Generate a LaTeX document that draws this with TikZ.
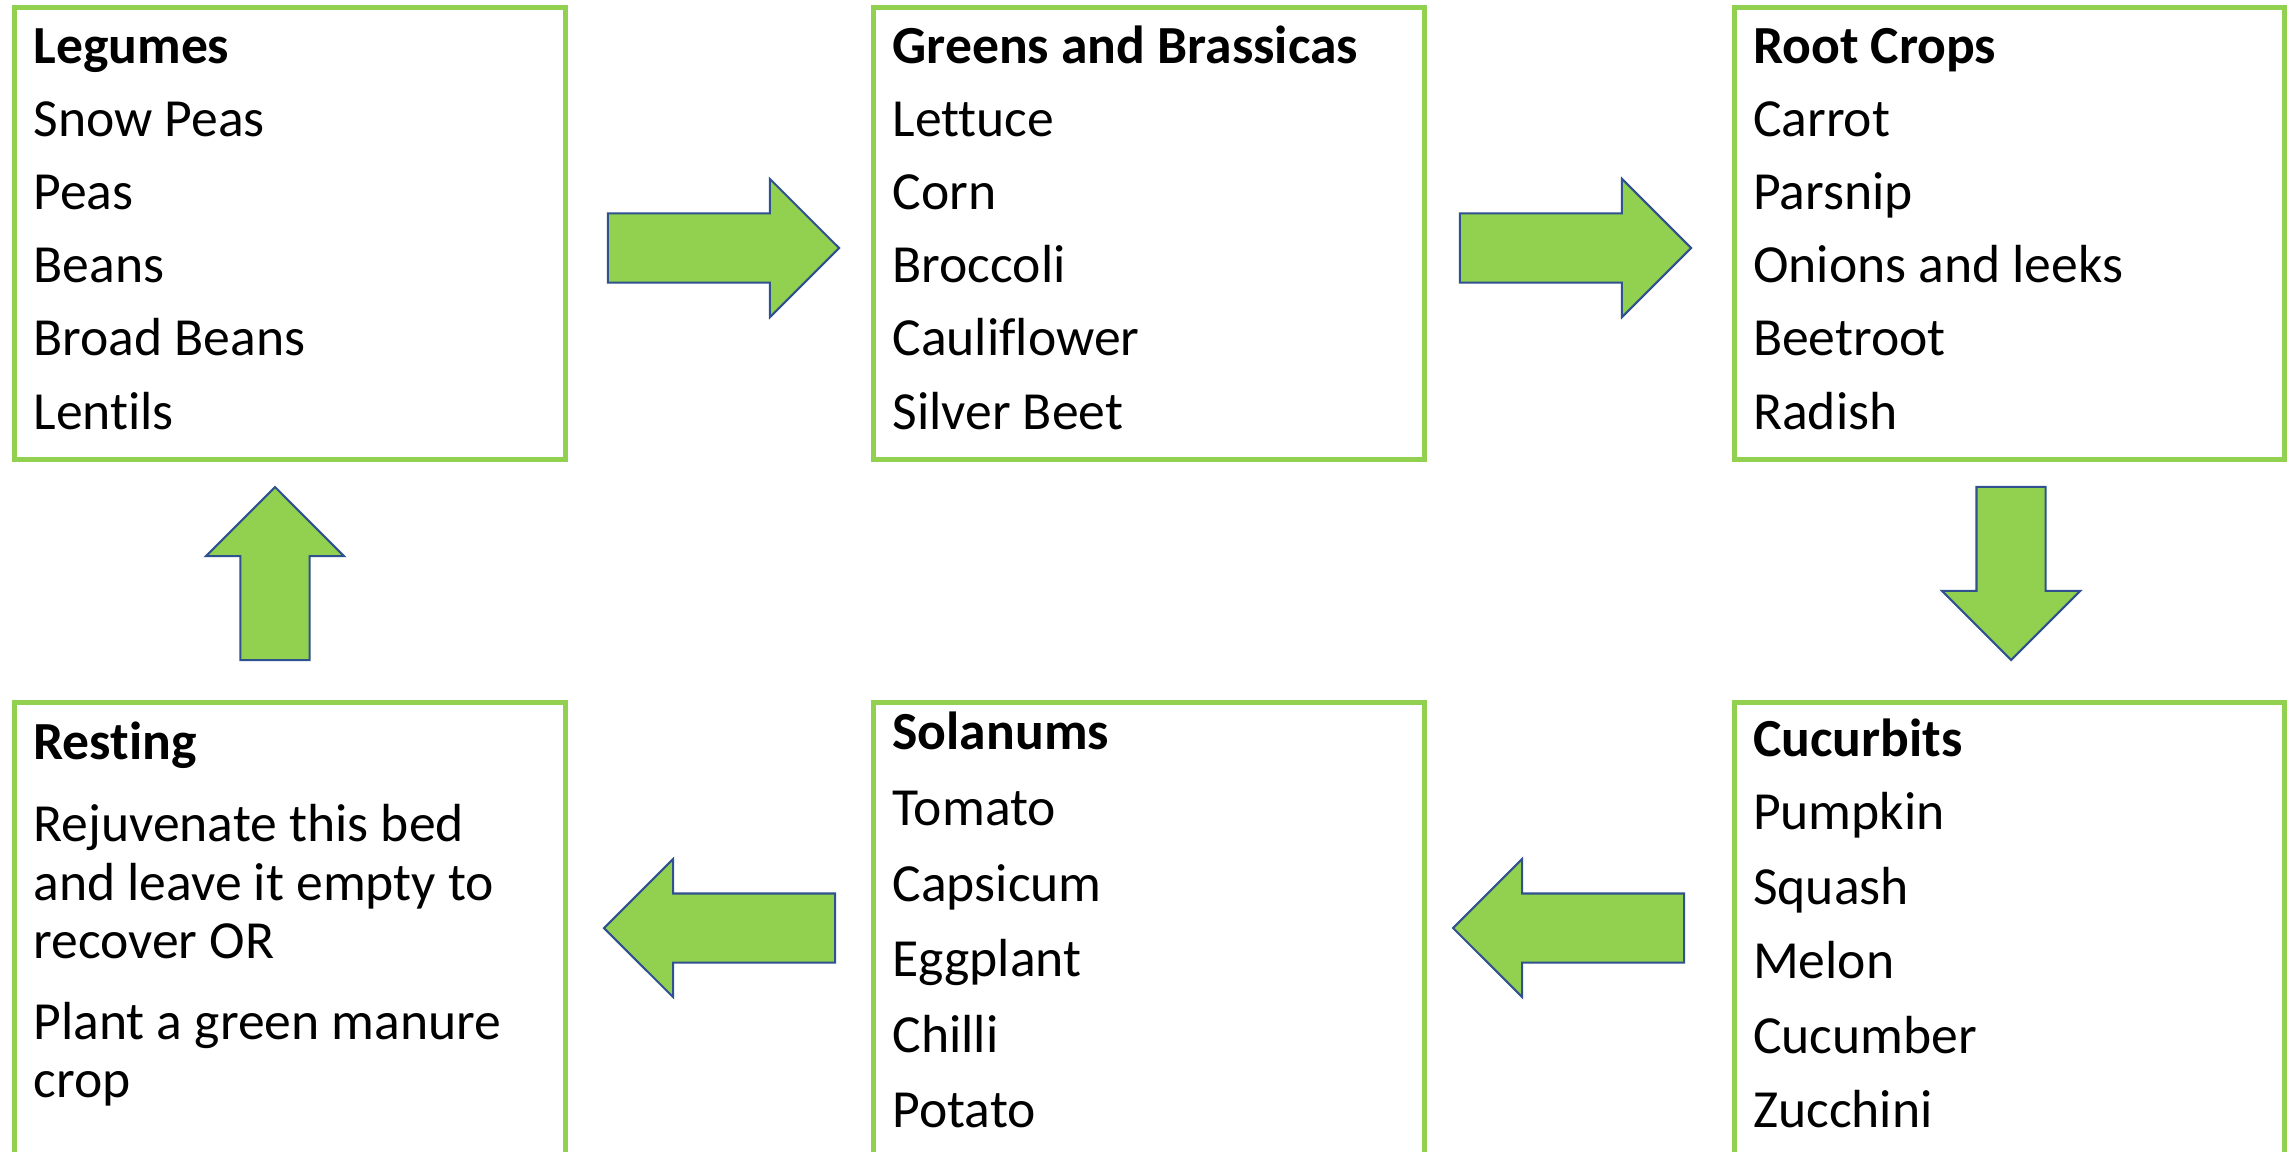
\documentclass[tikz,border=0pt]{standalone}
\usepackage{fontspec}
\setmainfont{Carlito}[Ligatures=NoCommon]
\usepackage{tikz}
\usetikzlibrary{shapes.arrows}

\definecolor{bedgreen}{HTML}{92D050}
\definecolor{arrowblue}{HTML}{2F528F}

\tikzset{
	bed/.style={draw=bedgreen, line width=1.5pt, rectangle, minimum width=5.5cm, minimum height=4.523cm, inner sep=0pt, outer sep=0pt},
	bedlow/.style={bed, minimum height=4.62cm},
	cropname/.style={anchor=base west, inner sep=0pt, font=\fontsize{15.25pt}{18pt}\selectfont},
	bedtitle/.style={cropname, font=\fontsize{15.25pt}{18pt}\selectfont\bfseries},
	turn/.style={single arrow, draw=arrowblue, fill=bedgreen, line width=0.6pt, minimum width=1.36cm, minimum height=2.31cm, single arrow head extend=0.345cm, single arrow tip angle=90, inner sep=0.335cm, outer sep=0pt, anchor=tip},
	turnshort/.style={turn, minimum height=1.73cm}
}

\begin{document}
\begin{tikzpicture}[x=0.01cm,y=-0.01cm]
	\useasboundingbox (0,0) rectangle (2295,1151);
	\clip (0,0) rectangle (2295,1151);

	% top row
	\node[bed] (legumes) at (290,233.5) {};
	\node[bedtitle] (legumes-t) at ([shift={(18,56)}]legumes.north west) {Legumes};
	\foreach \name [count=\i] in {Snow Peas, Peas, Beans, Broad Beans, Lentils}
		\node[cropname] (legumes-\i) at ([shift={(18,55.8+73.2*\i)}]legumes.north west) {\name};

	\node[bed] (greens) at (1149,233.5) {};
	\node[bedtitle] (greens-t) at ([shift={(18,56)}]greens.north west) {Greens and Brassicas};
	\foreach \name [count=\i] in {Lettuce, Corn, Broccoli, Cauliflower, Silver Beet}
		\node[cropname] (greens-\i) at ([shift={(18,55.8+73.2*\i)}]greens.north west) {\name};

	\node[bed] (roots) at (2009.5,233.5) {};
	\node[bedtitle] (roots-t) at ([shift={(18,56)}]roots.north west) {Root Crops};
	\foreach \name [count=\i] in {Carrot, Parsnip, Onions and leeks, Beetroot, Radish}
		\node[cropname] (roots-\i) at ([shift={(18,55.8+73.2*\i)}]roots.north west) {\name};

	% bottom row
	\node[bedlow] (resting) at (290,933.8) {};
	\node[bedtitle] (resting-t) at ([shift={(18,57)}]resting.north west) {Resting};
	\node[cropname] (resting-1) at ([shift={(18,139)}]resting.north west) {Rejuvenate this bed};
	\node[cropname] (resting-2) at ([shift={(18,198)}]resting.north west) {and leave it empty to};
	\node[cropname] (resting-3) at ([shift={(18,256)}]resting.north west) {recover OR};
	\node[cropname] (resting-4) at ([shift={(18,337)}]resting.north west) {Plant a green manure};
	\node[cropname] (resting-5) at ([shift={(18,395)}]resting.north west) {crop};

	\node[bedlow] (solanums) at (1149,933.8) {};
	\node[bedtitle] (solanums-t) at ([shift={(18,47)}]solanums.north west) {Solanums};
	\foreach \name [count=\i] in {Tomato, Capsicum, Eggplant, Chilli, Potato}
		\node[cropname] (solanums-\i) at ([shift={(18,47.5+75.5*\i)}]solanums.north west) {\name};

	\node[bedlow] (cucurbits) at (2009.5,933.8) {};
	\node[bedtitle] (cucurbits-t) at ([shift={(18,54)}]cucurbits.north west) {Cucurbits};
	\foreach \name [count=\i] in {Pumpkin, Squash, Melon, Cucumber, Zucchini}
		\node[cropname] (cucurbits-\i) at ([shift={(18,52.5+74.5*\i)}]cucurbits.north west) {\name};

	% rotation arrows, placed by their tips
	\node[turn] (a1) at (839,248) {};
	\node[turn] (a2) at (1691,248) {};
	\node[turnshort, shape border rotate=270] (a3) at (2011,660) {};
	\node[turn, shape border rotate=180] (a4) at (1453,928) {};
	\node[turn, shape border rotate=180] (a5) at (604,928) {};
	\node[turnshort, shape border rotate=90] (a6) at (275,487) {};

\end{tikzpicture}
\end{document}
